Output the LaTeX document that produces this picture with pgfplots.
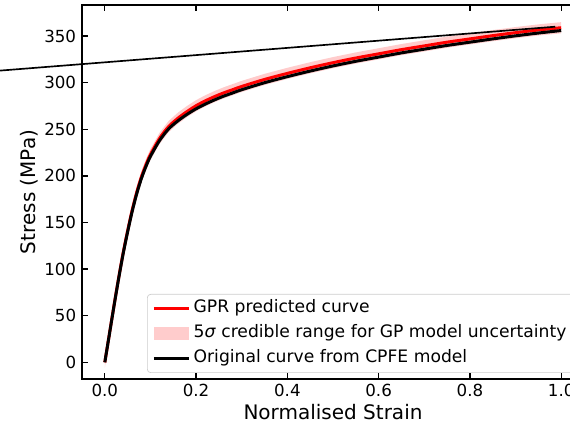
\documentclass[border=0pt]{standalone}
\usepackage{fontspec}
\setmainfont{DejaVu Sans}
\usepackage{pgfplots}
\pgfplotsset{compat=1.18}
\usepackage{pgfplotstable}

\pgfplotsset{
  lineleg/.style={legend image code/.code={\draw[##1] (0pt,0pt) -- (21pt,0pt);}},
  bandleg/.style={legend image code/.code={\fill[##1, sharp corners] (0pt,-4pt) rectangle (21pt,4pt);}},
}

\pgfplotstableread{
x cpfe gpr
0 0 0
0.01 30 30.3
0.02 60 60.5
0.03 89 89.7
0.04 116 117
0.05 140 141.2
0.06 162 163.4
0.07 181 182.6
0.08 197 198.7
0.09 210 211.8
0.10 221 223
0.12 238 240.3
0.14 250.5 253
0.16 259 261.8
0.18 266 269
0.20 272 275.3
0.22 277 280.5
0.24 281.5 285
0.26 285.5 289
0.28 289 292.5
0.30 292.5 296
0.35 300 303.5
0.40 306.5 310
0.45 312.5 316
0.50 318 321.5
0.55 323 326.5
0.60 327.5 331
0.65 332 335.5
0.70 336 339.5
0.75 340 343.5
0.80 343.5 347
0.85 347 350.5
0.90 350.3 353.7
0.95 353.3 356.6
1.00 356 359
}\curve

\pgfplotstableread{
x y
0 6
0.01 36.3
0.02 66.5
0.03 95.7
0.04 123
0.05 147.2
0.06 169.4
0.07 188.6
0.08 204.7
0.09 217.8
0.10 229
0.12 246.3
0.14 259
0.16 267.8
0.18 275
0.20 281.3
0.22 286.5
0.24 291
0.26 295
0.28 298.5
0.30 302
0.35 309.5
0.40 316
0.45 322
0.50 327.5
0.55 332.5
0.60 337
0.65 341.5
0.70 345.5
0.75 349.5
0.80 353
0.85 356.5
0.90 359.7
0.95 362.6
1.00 365
1.00 353
0.95 350.6
0.90 347.7
0.85 344.5
0.80 341
0.75 337.5
0.70 333.5
0.65 329.5
0.60 325
0.55 320.5
0.50 315.5
0.45 310
0.40 304
0.35 297.5
0.30 290
0.28 286.5
0.26 283
0.24 279
0.22 274.5
0.20 269.3
0.18 263
0.16 255.8
0.14 247
0.12 234.3
0.10 217
0.09 205.8
0.08 192.7
0.07 176.6
0.06 157.4
0.05 135.2
0.04 111
0.03 83.7
0.02 54.5
0.01 24.3
0 -6
}\band

\begin{document}
\begin{tikzpicture}
\begin{axis}[
  at={(0pt,0pt)}, anchor=south west,
  scale only axis, width=301.2pt, height=224.4pt,
  xmin=-0.05, xmax=1.05, ymin=-17.9, ymax=383.4,
  clip=false,
  xtick={0,0.2,0.4,0.6,0.8,1},
  xticklabels={0.0,0.2,0.4,0.6,0.8,1.0},
  ytick={0,50,100,150,200,250,300,350},
  /pgf/number format/assume math mode=true,
  tick align=inside,
  major tick length=3.5pt,
  tick style={black, line width=0.8pt},
  axis line style={line width=0.8pt},
  tick label style={font=\fontsize{10}{12}\selectfont},
  xticklabel style={anchor=base, yshift=-10.8pt},
  label style={font=\fontsize{12}{14}\selectfont},
  xlabel={Normalised Strain},
  ylabel={Stress (MPa)},
  xlabel style={at={([yshift=-24.2pt]axis description cs:0.5,0)}, anchor=base},
  ylabel style={at={([xshift=-27.6pt]axis description cs:0,0.5)}, anchor=base},
  legend cell align=left,
  legend style={at={(axis description cs:0,0)}, anchor=south west,
    xshift=39pt, yshift=3.6pt, draw=black!20, rounded corners=2pt,
    font=\fontsize{10.3}{12}\selectfont, fill=white,
    inner xsep=3pt, inner ysep=2pt, row sep=2pt,
    nodes={inner ysep=1.5pt, text height=7.5pt, text depth=2.5pt}},
]
\addplot[fill=red, fill opacity=0.2, draw=none, bandleg, forget plot] table[x=x,y=y]{\band};
\addplot[red, line width=1.8pt, smooth, lineleg] table[x=x,y=gpr]{\curve};
\addlegendentry{GPR predicted curve}
\addlegendimage{fill=red, fill opacity=0.2, draw=none, bandleg}
\addlegendentry{5\textit{σ} credible range for GP model uncertainty}
\addplot[black, line width=1.8pt, smooth, lineleg] table[x=x,y=cpfe]{\curve};
\addlegendentry{Original curve from CPFE model}
\addplot[black, line width=1pt, forget plot] coordinates {(-0.25,312.2) (0.987,360.1)};
\end{axis}
\pgfresetboundingbox
\useasboundingbox (-49.2pt,-25.8pt) rectangle (292.8pt,227.4pt);
\end{tikzpicture}
\end{document}
